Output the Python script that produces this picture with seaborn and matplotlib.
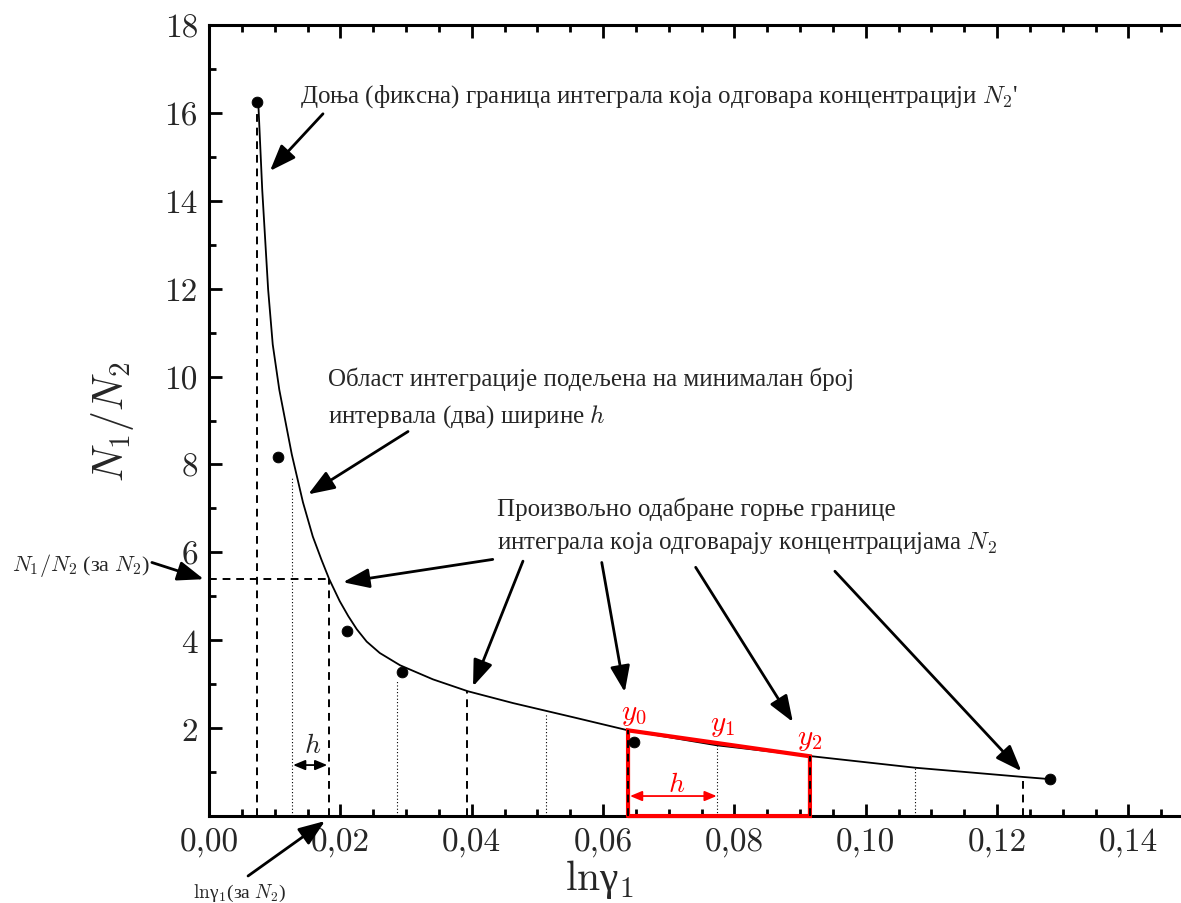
import numpy as np
import matplotlib
matplotlib.use('Agg')
import matplotlib.pyplot as plt
import seaborn as sns
from matplotlib.ticker import MultipleLocator

sns.set_style('ticks')
plt.rcParams['mathtext.fontset'] = 'cm'
plt.rcParams['font.family'] = ['Liberation Serif', 'DejaVu Serif']

# ---- data ----
# fitted curve ln(gamma1) -> N1/N2
curve_x = [0.0075, 0.0081, 0.0090, 0.0097, 0.0107, 0.0126, 0.0143, 0.0158,
           0.0171, 0.0183, 0.0199, 0.0212, 0.0225, 0.0240, 0.0260, 0.0291,
           0.0341, 0.0394, 0.0463, 0.0554, 0.0638, 0.0773, 0.0918, 0.1075,
           0.1239, 0.1280]
curve_y = [16.23, 14.25, 11.98, 10.73, 9.70, 8.23, 7.14, 6.36,
           5.84, 5.39, 4.89, 4.55, 4.25, 3.97, 3.71, 3.43,
           3.11, 2.84, 2.57, 2.25, 1.95, 1.61, 1.36, 1.10,
           0.89, 0.84]

# measured points
pts_x = [0.0073, 0.0105, 0.0210, 0.0294, 0.0647, 0.1280]
pts_y = [16.25, 8.16, 4.20, 3.27, 1.68, 0.84]

# integration limits (dashed) and interval midpoints (dotted)
dashed_x = [0.0073, 0.0183, 0.0393, 0.0638, 0.0915, 0.1239]
dashed_top = [16.0, 5.39, 2.84, 1.95, 1.36, 0.89]
dotted_x = [0.0126, 0.0286, 0.0513, 0.0773, 0.1075]
dotted_top = [7.7, 3.1, 2.33, 1.61, 1.10]
n_ratio_N2 = 5.39          # N1/N2 at the first upper limit

# trapezoid used for the Simpson illustration
trap_x = [0.0638, 0.0638, 0.0915, 0.0915, 0.0638]
trap_y = [0.0, 1.95, 1.36, 0.0, 0.0]

x_ticks = [0.00, 0.02, 0.04, 0.06, 0.08, 0.10, 0.12, 0.14]
x_labels = ['0,00', '0,02', '0,04', '0,06', '0,08', '0,10', '0,12', '0,14']
y_ticks = [2, 4, 6, 8, 10, 12, 14, 16, 18]
y_labels = [str(v) for v in y_ticks]

fig = plt.figure(figsize=(11.81, 9.04), dpi=100)
ax = fig.add_axes([0.177, 0.0962, 0.823, 0.875])

# guide lines
for x, top in zip(dashed_x, dashed_top):
    ax.plot([x, x], [0, top], color='k', lw=1.4, ls=(0, (4, 3)), zorder=4)
for x, top in zip(dotted_x, dotted_top):
    ax.plot([x, x], [0, top], color='k', lw=0.8, ls=(0, (1, 2)), zorder=2)
ax.plot([0, dashed_x[1]], [n_ratio_N2, n_ratio_N2], color='k', lw=1.4,
        ls=(0, (4, 3)), zorder=4)

# red trapezoid
ax.plot(trap_x, trap_y, color='red', lw=3, zorder=3, clip_on=False,
        solid_joinstyle='miter')

# curve and points
sns.lineplot(x=curve_x, y=curve_y, sort=False, color='k', lw=1.3, ax=ax,
             zorder=2.5)
sns.scatterplot(x=pts_x, y=pts_y, color='k', s=60, edgecolor='k', ax=ax,
                zorder=5, clip_on=False)

# axes styling
ax.set_xlim(0, 0.148)
ax.set_ylim(0, 18)
ax.set_xticks(x_ticks, x_labels, fontfamily='cmr10', fontsize=24)
ax.set_yticks(y_ticks, y_labels, fontfamily='cmr10', fontsize=24)
ax.xaxis.set_minor_locator(MultipleLocator(0.005))
ax.yaxis.set_minor_locator(MultipleLocator(1))
ax.tick_params(which='both', direction='in', top=True, right=False,
               width=2, color='k')
ax.tick_params(which='major', length=9, pad=8)
ax.tick_params(which='minor', length=5)
ax.tick_params(axis='x', which='both', labeltop=False)
for side in ['left', 'bottom', 'top']:
    ax.spines[side].set_linewidth(2.2)
    ax.spines[side].set_color('k')
ax.spines['right'].set_visible(False)

ax.set_xlabel(r'$\mathrm{ln}$γ$_1$', fontsize=30)
ax.xaxis.set_label_coords(0.402, -0.052)
ax.set_ylabel(r'$N_1/N_2$', fontsize=30)
ax.yaxis.set_label_coords(-0.075, 0.5)

# annotations
arrow = dict(arrowstyle='-|>,head_length=0.8,head_width=0.3', color='k',
             lw=2, shrinkA=0, shrinkB=0, mutation_scale=20)

ax.text(0.01385, 16.25, "Доња (фиксна) граница интеграла која одговара "
        "концентрацији $N_2$'", fontsize=18, va='baseline')
ax.annotate('', xy=(0.00928, 14.68), xytext=(0.01735, 15.98), arrowprops=arrow)

ax.text(0.0181, 9.80, 'Област интеграције подељена на минималан број',
        fontsize=18, va='baseline')
ax.text(0.0181, 8.98, 'интервала (два) ширине $h$', fontsize=18,
        va='baseline')
ax.annotate('', xy=(0.0151, 7.32), xytext=(0.0303, 8.75), arrowprops=arrow)

ax.text(0.0438, 6.86, 'Произвољно одабране горње границе', fontsize=18,
        va='baseline')
ax.text(0.0438, 6.11, 'интеграла која одговарају концентрацијама $N_2$',
        fontsize=18, va='baseline')
upper_starts = [(0.0432, 5.84), (0.0478, 5.80), (0.0598, 5.77),
                (0.0741, 5.66), (0.0953, 5.57)]
upper_tips = [(0.0204, 5.32), (0.0402, 2.95), (0.0633, 2.82),
              (0.0889, 2.14), (0.1237, 1.02)]
for s, t in zip(upper_starts, upper_tips):
    ax.annotate('', xy=t, xytext=s, arrowprops=arrow)

ax.text(-0.0090, 5.61, '$N_1/N_2$ (за $N_2$)', fontsize=16, ha='right',
        va='baseline', clip_on=False)
ax.annotate('', xy=(-0.0008, 5.39), xytext=(-0.0087, 5.77), arrowprops=arrow,
            annotation_clip=False)

ax.text(-0.0024, -1.84, r'$\mathrm{ln}$γ$_1$(за $N_2$)', fontsize=14,
        va='baseline', clip_on=False)
ax.annotate('', xy=(0.01766, -0.114), xytext=(0.00594, -1.364),
            arrowprops=arrow, annotation_clip=False)

# interval width h
small = dict(arrowstyle='<|-|>,head_length=0.6,head_width=0.25', lw=1.3,
             shrinkA=0, shrinkB=0, mutation_scale=12)
ax.annotate('', xy=(0.0128, 1.16), xytext=(0.0180, 1.16),
            arrowprops=dict(small, color='k'))
ax.text(0.0157, 1.45, '$h$', fontsize=20, ha='center', va='baseline')
ax.annotate('', xy=(0.0641, 0.455), xytext=(0.0773, 0.455),
            arrowprops=dict(small, color='red'))
ax.text(0.0712, 0.57, '$h$', fontsize=20, ha='center', va='baseline',
        color='red')

ax.text(0.0647, 2.20, '$y_0$', fontsize=21, ha='center', va='baseline',
        color='red')
ax.text(0.0782, 1.95, '$y_1$', fontsize=21, ha='center', va='baseline',
        color='red')
ax.text(0.0915, 1.64, '$y_2$', fontsize=21, ha='center', va='baseline',
        color='red')

fig.savefig('out.png', dpi=100)
